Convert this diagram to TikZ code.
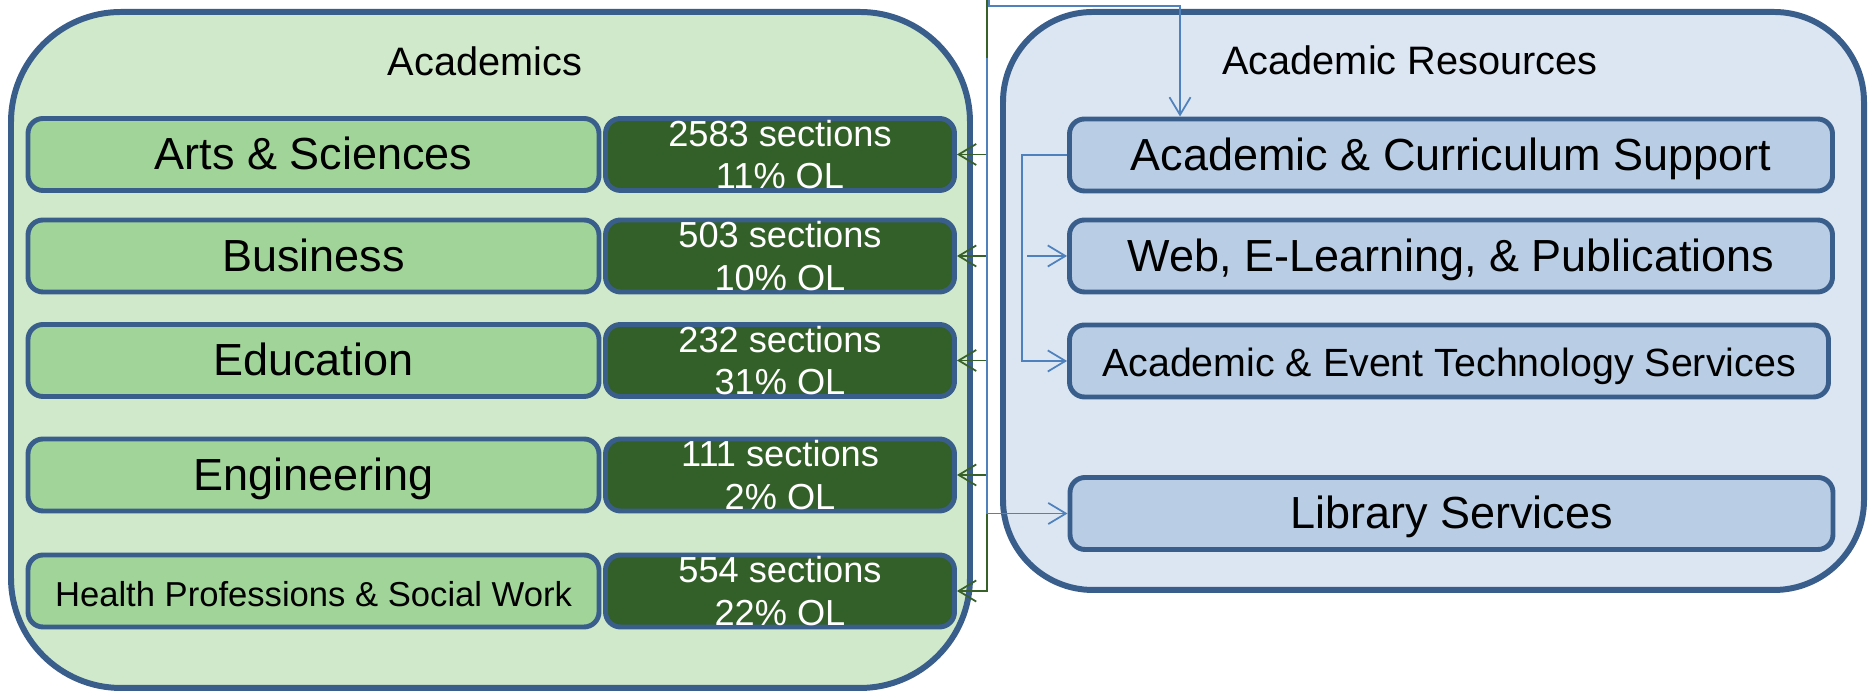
\documentclass[tikz,border=0pt]{standalone}
\usepackage{fontspec}
\setmainfont{Liberation Sans}
\usetikzlibrary{arrows.meta}

\definecolor{panelgreen}{RGB}{208,233,203}
\definecolor{namegreen}{RGB}{160,212,152}
\definecolor{darkgreen}{RGB}{50,96,40}
\definecolor{edgeblue}{RGB}{58,94,140}
\definecolor{panelblue}{RGB}{220,230,242}
\definecolor{boxblue}{RGB}{185,205,228}
\definecolor{linkblue}{RGB}{79,129,189}
\definecolor{linkgreen}{RGB}{55,97,40}

\begin{document}
\begin{tikzpicture}[
	panel/.style={draw=edgeblue, line width=1.7pt, inner sep=0pt},
	unit/.style={draw=edgeblue, line width=1.4pt, rounded corners=0.15cm, inner sep=0pt, minimum height=0.72cm, align=center},
	college/.style={unit, fill=namegreen, minimum width=5.71cm, text height=1.0em, text depth=0.14em, font=\fontsize{12.8}{14}\selectfont},
	count/.style={unit, fill=darkgreen, text=white, minimum width=3.49cm, font=\fontsize{10.3}{12}\selectfont},
	service/.style={unit, fill=boxblue, minimum width=7.63cm, text height=1.0em, text depth=0.14em, font=\fontsize{12.8}{14}\selectfont},
	heading/.style={font=\fontsize{11.3}{13}\selectfont},
	greenlink/.style={draw=linkgreen, line width=0.5pt, -{Straight Barb[length=5pt,width=6pt]}},
	bluelink/.style={draw=linkblue, line width=0.5pt, -{Straight Barb[length=5pt,width=6pt]}}
	]
	\useasboundingbox (0,0) rectangle (18.73,6.91);
	
	% the two panels
	\node[panel, fill=panelgreen, rounded corners=1.1cm, minimum width=9.59cm, minimum height=6.76cm] (acad) at (4.905,3.41) {};
	\node[panel, fill=panelblue, rounded corners=0.9cm, minimum width=8.61cm, minimum height=5.78cm] (res) at (14.335,3.90) {};
	\node[heading] (acadtitle) at (4.85,6.30) {Academics};
	\node[heading] (restitle) at (14.10,6.31) {Academic Resources};
	
	% colleges
	\node[college] (as) at (3.135,5.365) {Arts \& Sciences};
	\node[count] (asn) at (7.80,5.365) {2583 sections\\11\% OL};
	\node[college] (bus) at (3.135,4.35) {Business};
	\node[count] (busn) at (7.80,4.35) {503 sections\\10\% OL};
	\node[college] (edu) at (3.135,3.305) {Education};
	\node[count] (edun) at (7.80,3.305) {232 sections\\31\% OL};
	\node[college] (eng) at (3.135,2.16) {Engineering};
	\node[count] (engn) at (7.80,2.16) {111 sections\\2\% OL};
	\node[college, font=\fontsize{9.85}{12}\selectfont] (hp) at (3.135,1.00) {Health Professions \& Social Work};
	\node[count] (hpn) at (7.80,1.00) {554 sections\\22\% OL};
	
	% resources
	\node[service] (acs) at (14.51,5.36) {Academic \& Curriculum Support};
	\node[service] (web) at (14.51,4.35) {Web, E-Learning, \& Publications};
	\node[service, minimum width=7.59cm, font=\fontsize{11.2}{13}\selectfont] (aet) at (14.49,3.30) {Academic \& Event Technology Services};
	\node[service] (lib) at (14.515,1.775) {Library Services};
	
	% links
	\coordinate (gtop) at (9.87,6.91);
	\draw[greenlink] (gtop) |- (hpn.east);
	\draw[greenlink] (gtop |- asn.east) -- (asn.east);
	\draw[greenlink] (gtop |- busn.east) -- (busn.east);
	\draw[greenlink] (gtop |- edun.east) -- (edun.east);
	\draw[greenlink] (gtop |- engn.east) -- (engn.east);
	
	\coordinate (btop) at (9.87,6.33);
	\draw[bluelink] (btop) |- (lib.west);
	\coordinate (ctop) at (9.89,6.91);
	\coordinate (cturn) at (11.80,6.85);
	\draw[bluelink] (ctop) |- (cturn) -- (cturn |- acs.north);
	
	\coordinate (bend) at ([xshift=-0.45cm]acs.west);
	\coordinate (webtail) at ([xshift=0.05cm]bend);
	\draw[bluelink] (acs.west) -- (bend) |- (aet.west);
	\draw[bluelink] (webtail |- web.west) -- (web.west);
\end{tikzpicture}
\end{document}
